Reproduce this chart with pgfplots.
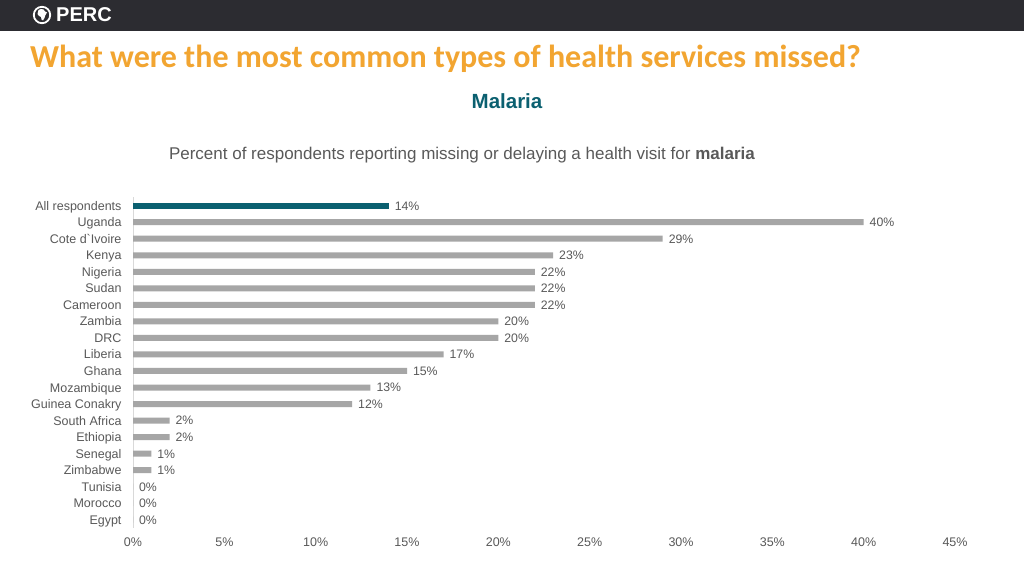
\documentclass[border=0pt]{standalone}
\usepackage{fontspec}
\setmainfont{Liberation Sans}
\newfontfamily\titlefont{Carlito}
\usepackage{pgfplots}
\pgfplotsset{compat=1.18}
\definecolor{topbar}{HTML}{2C2C31}
\definecolor{titleorange}{HTML}{F2A531}
\definecolor{tealc}{HTML}{0B6070}
\definecolor{barg}{HTML}{A6A6A6}
\definecolor{txtg}{HTML}{595959}
\definecolor{axg}{HTML}{D9D9D9}
\begin{document}
\begin{tikzpicture}[x=1pt,y=1pt]
\path[use as bounding box] (0,0) rectangle (1024,576);
\fill[white] (0,0) rectangle (1024,576);
% top bar
\fill[topbar] (0,545) rectangle (1024,576);
\draw[white,line width=1.8pt] (42,561) circle (8.2);
\fill[white] (38.5,566) -- (41,567) -- (43.5,566.5) -- (45,564.5) -- (47,563.5) -- (45.5,561) -- (44.5,558) -- (43,555.5) -- (41.5,556.5) -- (41,559) -- (39,560) -- (37.5,562) -- cycle;
\node[anchor=west,text=white,inner sep=0pt] at (56,561) {\fontsize{20}{22}\selectfont\bfseries PERC};
% title
\node[anchor=west,text=titleorange,inner sep=0pt] at (30,517) {\titlefont\fontsize{32}{36}\selectfont\bfseries What were the most common types of health services missed?};
\node[text=tealc,inner sep=0pt] at (507,475) {\fontsize{20.5}{23}\selectfont\bfseries Malaria};
\node[text=txtg,inner sep=0pt] at (462,421) {\fontsize{17}{20}\selectfont Percent of respondents reporting missing or delaying a health visit for \textbf{malaria}};
\begin{axis}[
  at={(133pt,48pt)}, anchor=south west,
  scale only axis, width=822pt, height=330.6pt,
  xmin=0, xmax=45, ymin=-0.5, ymax=19.5, y dir=reverse,
  xbar, bar width=6pt, bar shift=0pt,
  axis x line=none,
  axis y line*=left,
  y axis line style={axg, line width=0.8pt},
  ytick={0,...,19},
  yticklabels={All respondents,Uganda,Cote d\textasciigrave{}Ivoire,Kenya,Nigeria,Sudan,Cameroon,Zambia,DRC,Liberia,Ghana,Mozambique,Guinea Conakry,South Africa,Ethiopia,Senegal,Zimbabwe,Tunisia,Morocco,Egypt},
  major tick length=0pt,
  yticklabel style={font=\fontsize{12.5}{14}\selectfont, text=txtg, anchor=east, text height=9pt, text depth=0pt, xshift=-8pt},
  /pgf/number format/assume math mode=true,
  nodes near coords={\pgfmathprintnumber{\pgfplotspointmeta}\%},
  nodes near coords style={font=\fontsize{12.3}{14}\selectfont, text=txtg, anchor=west, text height=8.8pt, text depth=0pt, xshift=2.5pt},
  point meta=x,
  clip=false,
]
\addplot[draw=none, fill=tealc] coordinates {(14,0)};
\addplot[draw=none, fill=barg] coordinates {
(40,1) (29,2) (23,3) (22,4) (22,5) (22,6) (20,7) (20,8) (17,9) (15,10)
(13,11) (12,12) (2,13) (2,14) (1,15) (1,16) (0,17) (0,18) (0,19)};
\end{axis}
\begin{axis}[
  at={(133pt,48pt)}, anchor=south west,
  scale only axis, width=822pt, height=330.6pt,
  xmin=0, xmax=45, ymin=0, ymax=1,
  axis y line=none, axis x line*=bottom,
  x axis line style={draw=none},
  xtick={0,5,...,45},
  xticklabel={\pgfmathprintnumber{\tick}\%},
  /pgf/number format/assume math mode=true,
  major tick length=0pt,
  xticklabel style={font=\fontsize{12.5}{14}\selectfont, text=txtg, yshift=-6.5pt},
]
\end{axis}
\end{tikzpicture}
\end{document}
